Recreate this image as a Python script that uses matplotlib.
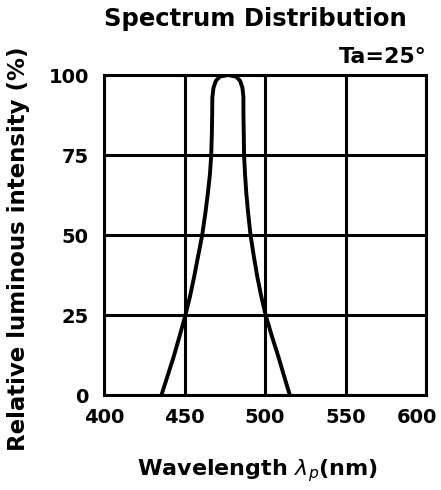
import numpy as np
import matplotlib
matplotlib.use("Agg")
import matplotlib.pyplot as plt
from matplotlib.transforms import ScaledTranslation

# spectrum curve
wavelength = [435.7, 439.5, 443.3, 447.0, 450.6, 453.5, 456.0, 458.5, 461.0,
              463.0, 464.5, 465.8, 466.6, 467.0, 467.2, 467.3, 468.0, 469.5,
              472.0, 477.0, 482.0, 484.5, 486.0, 486.6, 486.6, 486.8, 487.0,
              487.6, 488.4, 489.5, 491.0, 493.0, 495.2, 497.6, 500.4, 504.2,
              508.3, 511.8, 515.4]
intensity = [0, 6, 12, 18.5, 25, 31, 37, 43.5, 50,
             57, 63, 69, 75, 82, 88, 93, 96, 98.2,
             99.5, 100, 99.5, 98.2, 96, 93, 88, 82, 75,
             69, 63, 57, 50, 43.5, 37, 31, 25, 18.5,
             12, 6, 0]

x_ticks = [400, 450, 500, 550, 600]
y_ticks = [0, 25, 50, 75, 100]

fig = plt.figure(figsize=(4.41, 4.9), dpi=100)
ax = fig.add_axes([104 / 441, 1 - 395 / 490, 322 / 441, 320 / 490])

ax.plot(wavelength, intensity, color="black", lw=2.8, solid_capstyle="butt")

ax.set_xlim(400, 600)
ax.set_ylim(0, 100)
ax.set_xticks(x_ticks)
ax.set_yticks(y_ticks)
ax.grid(True, color="black", lw=2.2)
ax.tick_params(length=0, labelsize=14)
ax.tick_params(axis="x", pad=9)
ax.tick_params(axis="y", pad=11)
for lab in ax.get_xticklabels() + ax.get_yticklabels():
    lab.set_fontweight("bold")
# last x label is pulled in so it stays inside the picture
last = ax.get_xticklabels()[-1]
last.set_transform(last.get_transform() + ScaledTranslation(-9 / 100, 0, fig.dpi_scale_trans))
for s in ax.spines.values():
    s.set_linewidth(2.2)

fig.text(255 / 441, 1 - 19 / 490, "Spectrum Distribution", ha="center", va="center",
         fontsize=17.5, fontweight="bold")
fig.text(427 / 441, 1 - 57 / 490, "Ta=25°", ha="right", va="center",
         fontsize=16, fontweight="bold")
fig.text(19 / 441, 1 - 249 / 490, "Relative luminous intensity (%)", rotation=90,
         ha="center", va="center", fontsize=16.5, fontweight="bold")
fig.text(257 / 441, 1 - 471 / 490, r"Wavelength $\lambda_p$(nm)", ha="center", va="center",
         fontsize=16, fontweight="bold")

fig.savefig("out.png", dpi=100)
